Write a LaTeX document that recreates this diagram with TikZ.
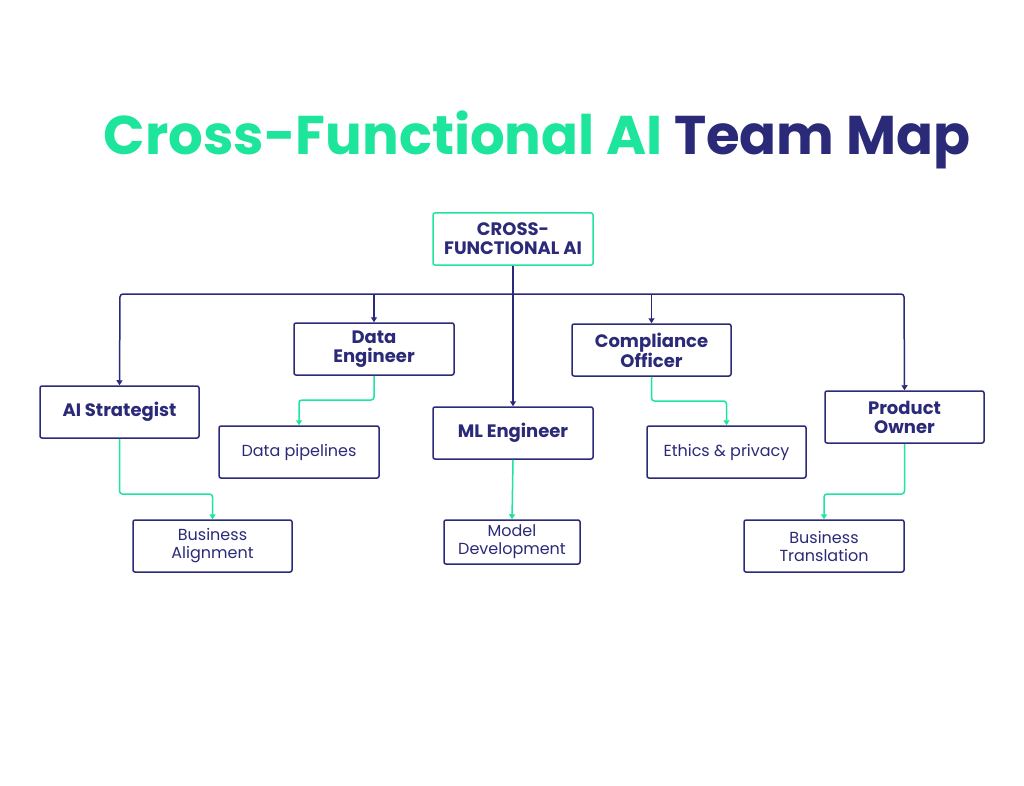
\documentclass[tikz,border=0pt]{standalone}
\usepackage{fontspec}
\setmainfont{Poppins}
\usetikzlibrary{arrows.meta}
\definecolor{navy}{HTML}{2B2A78}
\definecolor{mint}{HTML}{1DE59C}
\begin{document}
\begin{tikzpicture}[x=1pt,y=-1pt,
  box/.style={draw=navy,line width=1.5pt,rounded corners=2pt,text=navy,align=center,inner sep=0pt,font=\fontsize{18}{19}\selectfont\bfseries},
  sub/.style={box,font=\fontsize{16}{18}\selectfont},
  nav/.style={draw=navy,line width=1.5pt,rounded corners=3pt,-{Triangle[width=6pt,length=5pt]}},
  grn/.style={draw=mint,line width=1.5pt,rounded corners=3pt,-{Triangle[width=6pt,length=5pt]}}]
\useasboundingbox[fill=white] (0,0) rectangle (1024,786);
\node[font=\fontsize{54.5}{58}\selectfont\bfseries,anchor=base] (title) at (537,155)
  {\textcolor{mint}{Cross-Functional AI} \textcolor{navy}{Team Map}};
\node[box,draw=mint,minimum width=160,minimum height=52] (top) at (513,239) {CROSS-\\FUNCTIONAL AI};
\node[box,minimum width=159,minimum height=52] (ais) at (119.5,412) {AI Strategist};
\node[box,minimum width=160,minimum height=52] (de) at (374,349) {Data\\Engineer};
\node[box,minimum width=160,minimum height=52] (ml) at (513,433) {ML Engineer};
\node[box,minimum width=159,minimum height=52] (co) at (651.5,350) {Compliance\\Officer};
\node[box,minimum width=159,minimum height=52] (po) at (904.5,417) {Product\\Owner};
\node[sub,minimum width=160,minimum height=52] (dp) at (299,452) {Data pipelines};
\node[sub,minimum width=159,minimum height=52] (ba) at (212.5,546) {Business\\Alignment};
\node[sub,minimum width=136,minimum height=44] (md) at (512,542) {Model\\Development};
\node[sub,minimum width=159,minimum height=52] (ep) at (726.5,452) {Ethics \& privacy};
\node[sub,minimum width=160,minimum height=52] (bt) at (824,546) {Business\\Translation};
\coordinate (busL) at (120,294);
\coordinate (busR) at (904,294);
\draw[nav] (top.south) -- (ml.north);
\draw[nav] (ml.north |- busL) -- (busL) -- (ais.north);
\draw[nav] (ml.north |- busR) -- (busR) -- (po.north);
\draw[nav] (de.north |- busL) -- (de.north);
\draw[nav] (co.north |- busL) -- (co.north);
\draw[grn] (ais.south) |- (166,494) -| (ba.north);
\draw[grn] (de.south) |- (330,400) -| (dp.north);
\draw[grn] (ml.south) -- (md.north);
\draw[grn] (co.south) |- (690,401) -| (ep.north);
\draw[grn] (po.south) |- (860,494) -| (bt.north);
\end{tikzpicture}
\end{document}
